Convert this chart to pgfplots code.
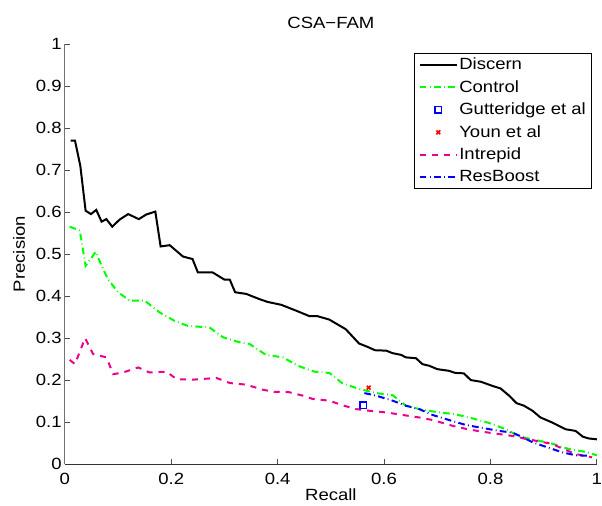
\documentclass[border=0pt]{standalone}
\usepackage{fontspec}
\setmainfont[FakeStretch=1.14]{Liberation Sans}
\usepackage{pgfplots}
\pgfplotsset{compat=1.18}
\pgfplotsset{/pgf/number format/assume math mode=true}
\newcommand{\fs}{\fontsize{12.2}{14}\selectfont}
\pgfplotsset{
  myleg/.style={legend image code/.code={\draw[mark repeat=2,mark phase=2,##1] plot coordinates {(0pt,0pt) (13.9pt,0pt) (27.75pt,0pt)};}},
}
\begin{document}
\begin{tikzpicture}
\begin{axis}[
  name=ax,
  scale only axis,
  width=399.75pt, height=315.75pt,
  xmin=0, xmax=1, ymin=0, ymax=1,
  axis x line=bottom, axis y line=left,
  axis line style={-, black!70, line width=0.6pt},
  x axis line style={black!80},
  y axis line style={black!55},
  xtick={0,0.2,0.4,0.6,0.8,1},
  ytick={0,0.1,0.2,0.3,0.4,0.5,0.6,0.7,0.8,0.9,1},
  xticklabels={0,0.2,0.4,0.6,0.8,1},
  yticklabels={0,0.1,0.2,0.3,0.4,0.5,0.6,0.7,0.8,0.9,1},
  tick align=inside,
  major tick length=3.75pt,
  tick style={black!70, line width=0.6pt},
  tick label style={font=\fs, inner sep=0pt},
  xticklabel style={yshift=-6.75pt},
  yticklabel style={xshift=-2.25pt},
  every axis title shift=0pt,
  title={CSA−FAM},
  title style={font=\fs, inner sep=0pt, at={(axis description cs:0.5,1.0357)}, anchor=base},
  xlabel={Recall},
  xlabel style={font=\fs, inner sep=0pt, at={(axis description cs:0.5,-0.086)}, anchor=base},
  ylabel={Precision},
  ylabel style={font=\fs, inner sep=0pt, at={(axis description cs:-0.075,0.5)}, anchor=base},
  legend style={at={(axis description cs:0.9906,0.979)}, anchor=north east,
    draw=black, line width=0.6pt, font=\fs, fill=white,
    inner xsep=3pt, inner ysep=2pt, row sep=3.6pt,
    nodes={inner xsep=1.2pt, inner ysep=1.5pt}},
  legend cell align=left,
  myleg,
]
\addplot[black, line width=1.5pt, mark=none] coordinates {
(0.011,0.77)(0.019,0.77)(0.029,0.71)(0.039,0.603)(0.049,0.595)(0.059,0.605)(0.069,0.577)(0.078,0.583)(0.089,0.565)(0.103,0.582)(0.119,0.595)(0.139,0.583)(0.153,0.594)(0.170,0.601)(0.180,0.518)(0.197,0.521)(0.222,0.494)(0.240,0.488)(0.250,0.456)(0.278,0.456)(0.300,0.439)(0.310,0.439)(0.320,0.409)(0.341,0.405)(0.365,0.393)(0.381,0.386)(0.407,0.379)(0.435,0.365)(0.460,0.352)(0.475,0.352)(0.497,0.344)(0.528,0.321)(0.553,0.287)(0.569,0.279)(0.583,0.271)(0.604,0.270)(0.616,0.264)(0.632,0.260)(0.641,0.254)(0.660,0.252)(0.672,0.238)(0.685,0.234)(0.700,0.226)(0.722,0.222)(0.734,0.217)(0.750,0.216)(0.763,0.200)(0.782,0.196)(0.804,0.186)(0.819,0.180)(0.835,0.163)(0.849,0.145)(0.863,0.139)(0.879,0.127)(0.894,0.111)(0.916,0.099)(0.941,0.083)(0.960,0.079)(0.974,0.065)(0.985,0.061)(1.0,0.059)
};
\addlegendentry{Discern}
\addplot[color={rgb,1:red,0;green,1;blue,0}, line width=1.5pt, mark=none, dash pattern=on 5pt off 2.5pt on 0.6pt off 2.5pt] coordinates {
(0.009,0.565)(0.028,0.556)(0.039,0.472)(0.058,0.505)(0.069,0.472)(0.081,0.44)(0.100,0.409)(0.122,0.389)(0.150,0.389)(0.178,0.361)(0.206,0.341)(0.231,0.329)(0.272,0.325)(0.297,0.302)(0.328,0.29)(0.347,0.286)(0.378,0.26)(0.410,0.254)(0.438,0.234)(0.469,0.22)(0.497,0.217)(0.522,0.192)(0.553,0.179)(0.585,0.169)(0.616,0.164)(0.641,0.139)(0.672,0.129)(0.704,0.123)(0.732,0.119)(0.763,0.110)(0.797,0.098)(0.829,0.083)(0.854,0.066)(0.885,0.057)(0.913,0.05)(0.947,0.036)(0.979,0.029)(1.0,0.021)
};
\addlegendentry{Control}
\addplot[only marks, color=blue, mark=square, mark size=2.3pt, line width=1.2pt] coordinates {
(0.561,0.140)
};
\addlegendentry{Gutteridge et al}
\addplot[only marks, color=red, mark=x, mark size=2pt, line width=1.3pt] coordinates {
(0.571,0.182)
};
\addlegendentry{Youn et al}
\addplot[color=magenta, line width=1.5pt, mark=none, dash pattern=on 4.5pt off 4.5pt] coordinates {
(0.009,0.248)(0.019,0.238)(0.038,0.300)(0.053,0.262)(0.078,0.254)(0.091,0.214)(0.109,0.218)(0.138,0.230)(0.159,0.218)(0.191,0.220)(0.210,0.202)(0.241,0.201)(0.285,0.205)(0.310,0.193)(0.341,0.189)(0.372,0.177)(0.394,0.172)(0.422,0.171)(0.447,0.163)(0.466,0.155)(0.497,0.151)(0.522,0.140)(0.547,0.131)(0.572,0.127)(0.604,0.123)(0.635,0.117)(0.666,0.111)(0.691,0.105)(0.729,0.091)(0.757,0.083)(0.785,0.077)(0.819,0.071)(0.847,0.066)(0.869,0.059)(0.888,0.055)(0.916,0.048)(0.935,0.037)(0.960,0.024)(0.991,0.016)
};
\addlegendentry{Intrepid}
\addplot[color=blue, line width=1.5pt, mark=none, dash pattern=on 5pt off 2.5pt on 0.6pt off 2.5pt] coordinates {
(0.563,0.169)(0.585,0.163)(0.616,0.151)(0.641,0.139)(0.666,0.131)(0.691,0.117)(0.722,0.105)(0.754,0.093)(0.785,0.086)(0.816,0.079)(0.841,0.075)(0.857,0.066)(0.879,0.052)(0.907,0.040)(0.935,0.028)(0.960,0.021)(0.982,0.020)
};
\addlegendentry{ResBoost}
\end{axis}
\path (ax.south west) ++(-48.75pt,-30.75pt) rectangle ++(451.5pt,379.5pt);
\end{tikzpicture}
\end{document}
